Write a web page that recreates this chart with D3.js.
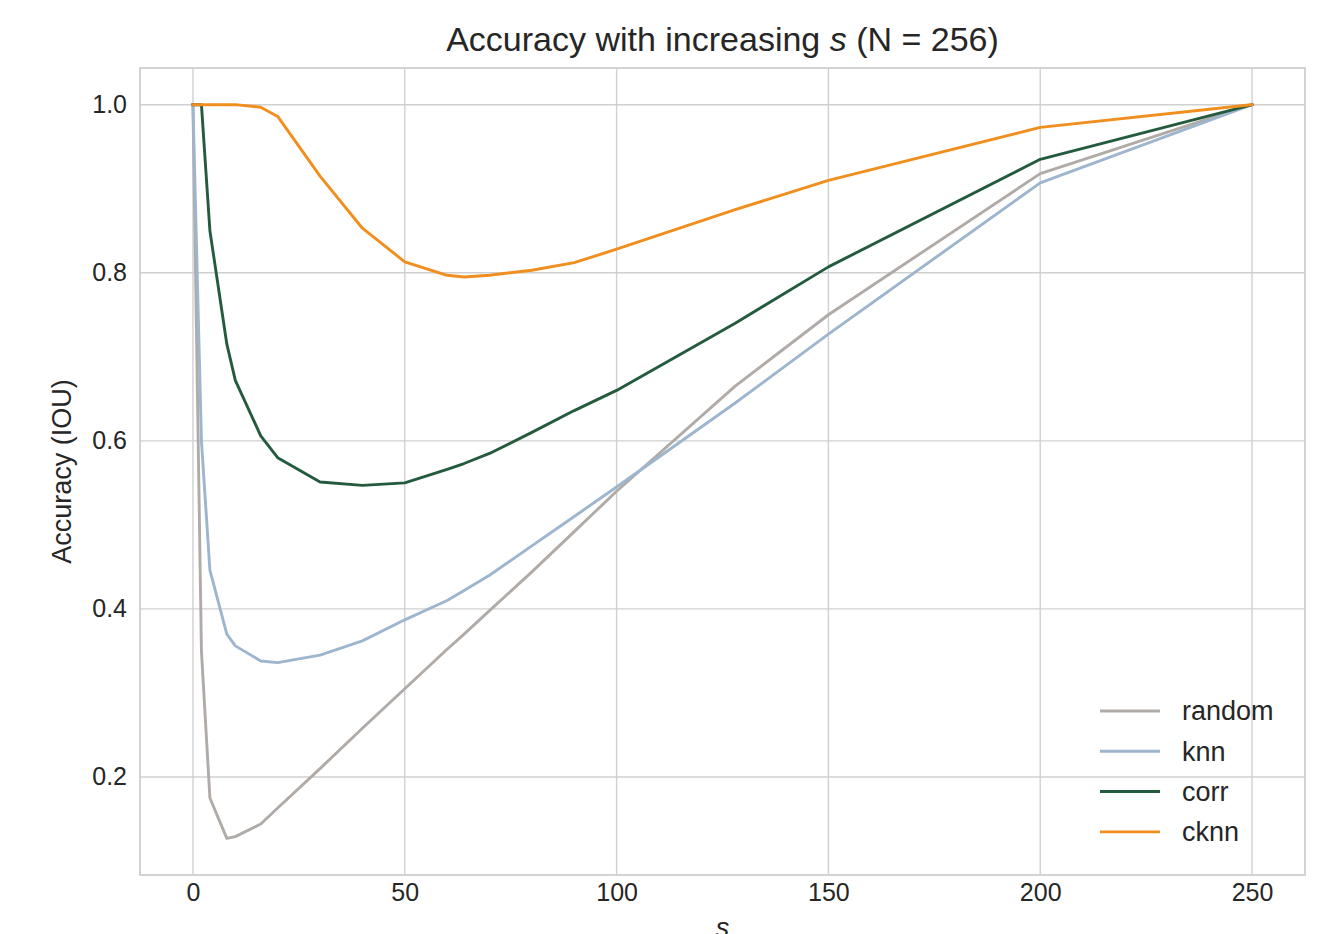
<!DOCTYPE html>
<html>
<head>
<meta charset="utf-8">
<script src="https://cdn.jsdelivr.net/npm/d3@7"></script>
<style>
  body { margin: 0; background: #fff; }
  svg text { font-family: "Liberation Sans", Arial, sans-serif; fill: #262626; }
</style>
</head>
<body>
<div id="chart"></div>
<script>
// sample sizes s and accuracy per method
const sValues = [0, 2, 4, 8, 10, 16, 20, 30, 40, 50, 60, 64, 70, 80, 90, 100, 128, 150, 200, 250];
const randomAcc = [1.0, 0.35, 0.175, 0.127, 0.129, 0.144, 0.163, 0.21, 0.258, 0.305, 0.352, 0.37, 0.398, 0.444, 0.492, 0.54, 0.665, 0.75, 0.918, 1.0];
const knnAcc = [1.0, 0.6, 0.446, 0.37, 0.356, 0.338, 0.336, 0.345, 0.362, 0.387, 0.41, 0.422, 0.44, 0.475, 0.51, 0.545, 0.645, 0.727, 0.907, 1.0];
const corrAcc = [1.0, 1.0, 0.85, 0.715, 0.672, 0.606, 0.58, 0.551, 0.547, 0.55, 0.566, 0.573, 0.585, 0.61, 0.636, 0.66, 0.74, 0.807, 0.935, 1.0];
const cknnAcc = [1.0, 1.0, 1.0, 1.0, 1.0, 0.997, 0.986, 0.915, 0.853, 0.813, 0.797, 0.795, 0.797, 0.803, 0.812, 0.828, 0.875, 0.91, 0.973, 1.0];

const seriesNames = ["random", "knn", "corr", "cknn"];
const seriesColors = ["#b1aba8", "#9eb5ce", "#245b3f", "#f08e1e"];
const xTicks = [0, 50, 100, 150, 200, 250];
const yTicks = [0.2, 0.4, 0.6, 0.8, 1.0];

const series = [randomAcc, knnAcc, corrAcc, cknnAcc].map((vals, i) => ({
    name: seriesNames[i],
    color: seriesColors[i],
    values: sValues.map((s, j) => ({ s: s, acc: vals[j] }))
}));

const width = 1337;
const height = 934;
const margin = { top: 68, right: 32, bottom: 59, left: 140 };
const innerW = width - margin.left - margin.right;
const innerH = height - margin.top - margin.bottom;

const svg = d3.select("#chart")
    .append("svg")
    .attr("width", width)
    .attr("height", height);

// matplotlib-like 5% padding on the data range
const allAcc = [].concat(randomAcc, knnAcc, corrAcc, cknnAcc);
const xPad = (d3.max(sValues) - d3.min(sValues)) * 0.05;
const yMin = d3.min(allAcc), yMax = d3.max(allAcc);
const yPad = (yMax - yMin) * 0.05;

const x = d3.scaleLinear()
    .domain([d3.min(sValues) - xPad, d3.max(sValues) + xPad])
    .range([0, innerW]);
const y = d3.scaleLinear()
    .domain([yMin - yPad, yMax + yPad])
    .range([innerH, 0]);

const g = svg.append("g")
    .attr("transform", `translate(${margin.left}, ${margin.top})`);

// grid
g.append("g")
    .selectAll("line")
    .data(xTicks)
    .enter()
    .append("line")
    .attr("x1", d => x(d)).attr("x2", d => x(d))
    .attr("y1", 0).attr("y2", innerH)
    .attr("stroke", "#d0d0d0")
    .attr("stroke-width", 1.4);
g.append("g")
    .selectAll("line")
    .data(yTicks)
    .enter()
    .append("line")
    .attr("x1", 0).attr("x2", innerW)
    .attr("y1", d => y(d)).attr("y2", d => y(d))
    .attr("stroke", "#d0d0d0")
    .attr("stroke-width", 1.4);

// frame
g.append("rect")
    .attr("width", innerW)
    .attr("height", innerH)
    .attr("fill", "none")
    .attr("stroke", "#cfcfcf")
    .attr("stroke-width", 1.8);

// axes (no tick marks, just labels)
const xAxis = g.append("g")
    .attr("transform", `translate(0, ${innerH})`)
    .call(d3.axisBottom(x).tickValues(xTicks).tickSize(0).tickPadding(8).tickFormat(d3.format("d")));
const yAxis = g.append("g")
    .call(d3.axisLeft(y).tickValues(yTicks).tickSize(0).tickPadding(13).tickFormat(d3.format(".1f")));
[xAxis, yAxis].forEach(ax => {
    ax.select(".domain").remove();
    ax.selectAll("text")
        .attr("font-size", 25)
        .attr("fill", "#333")
        .style("font-family", "'Liberation Sans', Arial, sans-serif");
});

// lines
const line = d3.line()
    .x(d => x(d.s))
    .y(d => y(d.acc));

g.append("g")
    .selectAll("path")
    .data(series)
    .enter()
    .append("path")
    .attr("d", d => line(d.values))
    .attr("fill", "none")
    .attr("stroke", d => d.color)
    .attr("stroke-width", 2.9)
    .attr("stroke-linejoin", "round")
    .attr("stroke-linecap", "square");

// legend
const legend = g.append("g")
    .attr("transform", `translate(${innerW - 205}, ${y(0.2) - 66})`);
const items = legend.selectAll("g")
    .data(series)
    .enter()
    .append("g")
    .attr("transform", (d, i) => `translate(0, ${i * 40.3})`);
items.append("line")
    .attr("x1", 0).attr("x2", 60)
    .attr("y1", 0).attr("y2", 0)
    .attr("stroke", d => d.color)
    .attr("stroke-width", 2.9);
items.append("text")
    .attr("x", 82)
    .attr("y", 0)
    .attr("dy", "0.35em")
    .attr("font-size", 27)
    .attr("fill", "#333")
    .text(d => d.name);

// title
const title = svg.append("text")
    .attr("x", margin.left + innerW / 2)
    .attr("y", 51)
    .attr("text-anchor", "middle")
    .attr("font-size", 34);
title.append("tspan").text("Accuracy with increasing ");
title.append("tspan").attr("font-style", "italic").text("s");
title.append("tspan").text(" (N = 256)");

// axis labels (the "s" sits partly below the page edge, as in the original)
svg.append("text")
    .attr("x", margin.left + innerW / 2)
    .attr("y", 937)
    .attr("text-anchor", "middle")
    .attr("font-size", 27)
    .attr("font-style", "italic")
    .attr("fill", "#333")
    .text("s");

svg.append("text")
    .attr("transform", `translate(71, ${margin.top + innerH / 2}) rotate(-90)`)
    .attr("text-anchor", "middle")
    .attr("font-size", 27)
    .attr("fill", "#333")
    .text("Accuracy (IOU)");
</script>
</body>
</html>
